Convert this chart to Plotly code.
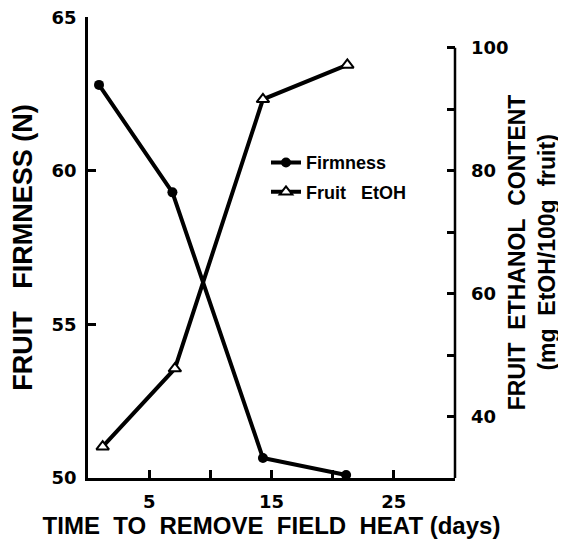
import plotly.graph_objects as go

# ---- data ----
firm_days = [0.9, 6.9, 14.3, 21.1]
firmness = [62.8, 59.3, 50.65, 50.1]
etoh_days = [1.2, 7.1, 14.3, 21.2]
etoh = [35.1, 47.8, 91.6, 97.2]

x_tickvals = [5, 10, 15, 20, 25]
x_ticktext = ["5", "", "15", "", "25"]
y1_tickvals = [50, 55, 60, 65]
y1_ticktext = ["50", "55", "60", "65"]
y2_tickvals = [40, 50, 60, 70, 80, 90, 100]
y2_ticktext = ["40", "", "60", "", "80", "", "100"]

FONT = "Liberation Sans, Arial, sans-serif"
TICKFONT = "DejaVu Sans, Liberation Sans, sans-serif"
NB = "\u00a0"


def bold(labels):
    return ["<b>%s</b>" % t if t else "" for t in labels]


fig = go.Figure()
fig.add_trace(go.Scatter(
    x=firm_days, y=firmness, mode="lines+markers", name="<b>Firmness</b>",
    line=dict(color="black", width=4),
    marker=dict(symbol="circle", size=10, color="black"),
    yaxis="y", legendgroup="a"))
fig.add_trace(go.Scatter(
    x=etoh_days, y=etoh, mode="lines+markers", name="<b>Fruit" + NB * 3 + "EtOH</b>",
    line=dict(color="black", width=4),
    marker=dict(symbol="triangle-up", size=11, color="white",
                line=dict(color="black", width=2)),
    yaxis="y2", legendgroup="b"))

axis_common = dict(
    showline=True, linecolor="black", linewidth=2.5,
    ticks="inside", ticklen=8, tickwidth=2.5, tickcolor="black",
    showgrid=False, zeroline=False, automargin=False,
    tickfont=dict(family=TICKFONT, size=18, color="black"),
    ticklabeloverflow="allow",
)

# the page body adds an 8px offset, so the figure is 8px smaller than the window
fig.update_layout(
    width=558, height=539,
    margin=dict(l=80, r=111, t=9, b=69),
    paper_bgcolor="white", plot_bgcolor="white",
    showlegend=True,
    legend=dict(x=0.485, y=0.724, xanchor="left", yanchor="top",
                bgcolor="rgba(0,0,0,0)", tracegroupgap=3,
                font=dict(family=FONT, size=18, color="black")),
    xaxis=dict(
        range=[0, 30], tickvals=x_tickvals, ticktext=bold(x_ticktext),
        ticklabelstandoff=6,
        title=dict(text="<b>TIME" + NB * 2 + "TO" + NB * 2 + "REMOVE" + NB * 2 + "FIELD" + NB * 2 + "HEAT" + NB + "(days)</b>",
                   font=dict(family=FONT, size=24, color="black"), standoff=0),
        **axis_common),
    yaxis=dict(
        range=[50, 65.01], tickvals=y1_tickvals, ticktext=bold(y1_ticktext),
        ticklabelstandoff=5,
        title=dict(text="<b>FRUIT" + NB * 3 + "FIRMNESS" + NB + "(N)</b>",
                   font=dict(family=FONT, size=27, color="black"), standoff=22),
        **axis_common),
    yaxis2=dict(
        overlaying="y", side="right", range=[30, 105],
        tickvals=y2_tickvals, ticktext=bold(y2_ticktext),
        showline=False, ticks="inside", ticklen=8, tickwidth=2.5, tickcolor="black",
        showgrid=False, zeroline=False, automargin=False,
        tickfont=dict(family=TICKFONT, size=18, color="black"),
        ticklabelstandoff=15, ticklabeloverflow="allow",
    ),
)

# right axis title placed as a rotated two-line annotation
fig.add_annotation(
    text="<b>FRUIT" + NB * 2 + "ETHANOL" + NB * 2 + "CONTENT<br>(mg" + NB * 2 + "EtOH/100g" + NB * 2 + "fruit)</b>",
    xref="paper", yref="paper", x=1.21, y=0.49, xanchor="center", yanchor="middle",
    textangle=-90, showarrow=False,
    font=dict(family=FONT, size=23, color="black"))

# right axis line only spans the labelled part of the scale
fig.add_shape(type="line", xref="paper", x0=1, x1=1, yref="y2",
              y0=y2_tickvals[0] - 10, y1=y2_tickvals[-1],
              line=dict(color="black", width=2.5))

fig.write_html("out.html")
